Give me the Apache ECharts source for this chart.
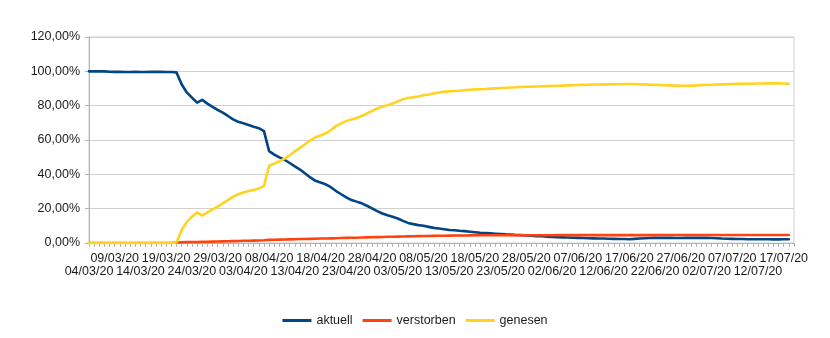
<!DOCTYPE html>
<html>
<head>
<meta charset="utf-8">
<script src="https://cdn.jsdelivr.net/npm/echarts@6/dist/echarts.min.js"></script>
<style>
html,body{margin:0;padding:0;background:#fff;}
#chart{width:830px;height:338px;}
</style>
</head>
<body>
<div id="chart"></div>
<script>
// Categories: consecutive days 04/03/20 .. 19/07/20
const startDate = [2020, 2, 4];
const dayCount = 138;
const categories = [];
for (let k = 0; k < dayCount; k++) {
  const d = new Date(Date.UTC(startDate[0], startDate[1], startDate[2] + k));
  const dd = String(d.getUTCDate()).padStart(2, '0');
  const mm = String(d.getUTCMonth() + 1).padStart(2, '0');
  categories.push(dd + '/' + mm + '/20');
}
const labelStep = 5;

const seriesNames = ['aktuell', 'verstorben', 'genesen'];

const aktuell = [
  100,100,100,100,99.8,99.7,99.7,99.6,99.6,99.7,99.6,99.6,99.7,99.7,99.7,99.6,99.6,99.4,
  92.5,87.7,84.7,81.8,83.4,81.2,79.3,77.5,75.9,74,72,70.6,69.7,68.7,67.7,66.9,65.2,
  53.5,51.5,49.9,48.5,46.6,44.6,42.8,40.5,38.2,36.2,35.2,34.2,32.5,30.3,28.4,26.6,
  25,24.1,23.1,21.7,20.2,18.6,17.2,16.2,15.3,14.3,12.9,11.7,11,10.4,10,9.4,8.8,8.4,
  8,7.6,7.4,7.1,6.9,6.6,6.3,6.0,5.8,5.6,5.4,5.2,5.0,4.9,4.7,4.6,4.4,4.2,4.0,3.9,3.7,
  3.5,3.4,3.3,3.2,3.1,3.0,2.9,2.8,2.7,2.6,2.6,2.5,2.4,2.3,2.3,2.2,2.4,2.6,2.8,2.9,
  3.0,3.0,3.0,3.0,2.9,2.9,3.0,3.0,3.0,3.0,3.0,2.9,2.8,2.6,2.5,2.4,2.3,2.3,2.2,2.2,
  2.2,2.2,2.2,2.1,2.1,2.2,2.2
];

const verstorben = [
  0,0,0,0,0,0,0,0,0,0,0,0,0,0,0,0,0,0.3,
  0.4,0.5,0.55,0.6,0.7,0.75,0.8,0.9,0.95,1.0,1.1,1.2,1.3,1.35,1.4,1.5,1.6,
  1.8,1.9,1.95,2.0,2.1,2.2,2.3,2.35,2.4,2.5,2.6,2.65,2.7,2.8,2.9,3.0,
  3.05,3.1,3.2,3.3,3.35,3.4,3.5,3.6,3.65,3.7,3.8,3.85,3.9,4.0,4.05,4.1,4.15,4.2,
  4.25,4.3,4.35,4.4,4.4,4.45,4.5,4.5,4.5,4.5,4.5,4.5,4.5,4.5,4.5,4.5,4.5,4.5,4.5,4.5,4.5,
  4.5,4.6,4.6,4.6,4.6,4.6,4.6,4.6,4.6,4.6,4.6,4.6,4.6,4.6,4.6,4.6,4.6,4.6,4.6,4.6,
  4.6,4.65,4.65,4.65,4.65,4.65,4.65,4.65,4.65,4.65,4.7,4.7,4.7,4.7,4.7,4.7,4.7,4.7,4.7,4.7,
  4.7,4.7,4.7,4.7,4.7,4.7,4.7
];

const genesen = [
  0,0,0,0,0,0,0,0,0,0,0,0,0,0,0,0,0,0.3,
  7.4,12.3,15.3,17.8,16,17.8,19.6,21.1,23.1,25,27,28.4,29.4,30.3,30.9,31.7,33.3,
  45,46.2,47.6,49.1,51.1,53.4,55.5,57.5,59.8,61.6,62.6,63.8,65.8,68.1,69.7,71,
  72,72.8,74,75.5,76.9,78.3,79.5,80.2,81.2,82.4,83.8,84.5,84.9,85.3,86.1,86.5,87.1,87.7,
  88.1,88.3,88.5,88.7,89,89.3,89.5,89.6,89.7,89.9,90.1,90.3,90.4,90.6,90.7,90.9,91,91.1,91.2,91.3,91.4,
  91.5,91.6,91.7,91.8,91.9,92,92.1,92.2,92.3,92.3,92.4,92.4,92.5,92.5,92.6,92.6,92.6,92.5,92.4,92.2,
  92.1,92.0,91.9,91.8,91.7,91.6,91.6,91.7,91.8,92,92.1,92.2,92.3,92.4,92.5,92.6,92.7,92.7,92.8,92.8,
  92.9,92.9,93,93,93,92.9,92.7
];

const yTicks = { min: 0, max: 120, interval: 20 };
const colors = ['#004586', '#ff420e', '#ffd320'];

const chart = echarts.init(document.getElementById('chart'), null, { renderer: 'canvas' });
const font = '"Liberation Sans", Arial, sans-serif';
const fs = 12.5;

function lineSeries(name, data, color) {
  return {
    name: name,
    type: 'line',
    data: data,
    symbol: 'none',
    showSymbol: false,
    smooth: false,
    animation: false,
    lineStyle: { color: color, width: 2.6, cap: 'round', join: 'round' },
    itemStyle: { color: color }
  };
}

chart.setOption({
  animation: false,
  backgroundColor: '#ffffff',
  textStyle: { fontFamily: font },
  color: colors,
  grid: {
    left: 89, right: 36, top: 37, bottom: 95,
    show: true, borderColor: '#d0d0d0', borderWidth: 1
  },
  legend: {
    bottom: 6,
    left: 'center',
    itemWidth: 29,
    itemHeight: 3,
    itemGap: 10,
    icon: 'rect',
    textStyle: { fontFamily: font, fontSize: fs, color: '#1a1a1a' },
    data: seriesNames
  },
  xAxis: {
    type: 'category',
    data: categories,
    boundaryGap: false,
    axisLine: { show: true, lineStyle: { color: '#b3b3b3', width: 1 } },
    axisTick: { show: true, interval: 0, length: 4, lineStyle: { color: '#b3b3b3' } },
    axisLabel: {
      interval: 0,
      showMinLabel: true,
      showMaxLabel: true,
      margin: 9,
      fontFamily: font,
      fontSize: fs,
      color: '#1a1a1a',
      lineHeight: 13,
      hideOverlap: false,
      formatter: function (value, index) {
        if (index % labelStep !== 0) return '';
        const n = index / labelStep;
        return (n % 2 === 0) ? '\n' + value : value;
      }
    },
    splitLine: { show: false }
  },
  yAxis: {
    type: 'value',
    min: yTicks.min,
    max: yTicks.max,
    interval: yTicks.interval,
    axisLine: { show: true, lineStyle: { color: '#b3b3b3', width: 1 } },
    axisTick: { show: true, length: 4, lineStyle: { color: '#b3b3b3' } },
    axisLabel: {
      margin: 9,
      fontFamily: font,
      fontSize: fs,
      color: '#1a1a1a',
      formatter: function (v) { return v.toFixed(2).replace('.', ',') + '%'; }
    },
    splitLine: { show: true, lineStyle: { color: '#d0d0d0', width: 1 } }
  },
  series: [
    lineSeries(seriesNames[0], aktuell, colors[0]),
    lineSeries(seriesNames[1], verstorben, colors[1]),
    lineSeries(seriesNames[2], genesen, colors[2])
  ]
});
</script>
</body>
</html>
